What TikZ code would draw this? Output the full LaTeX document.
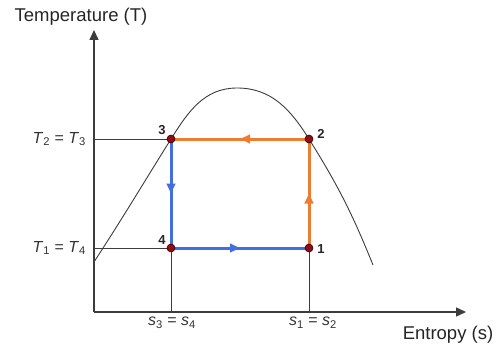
\documentclass[tikz,border=0pt]{standalone}
\usepackage{fontspec}
\setmainfont{Liberation Sans}
\usetikzlibrary{arrows.meta,decorations.markings}
\definecolor{cyorange}{RGB}{237,125,49}
\definecolor{cyblue}{RGB}{66,110,225}
\definecolor{dotred}{RGB}{150,10,20}
\definecolor{axisgray}{RGB}{60,60,60}
\tikzset{
  axisline/.style={draw=axisgray,line width=1.4pt,-{Triangle[length=10pt,width=9pt]}},
  guide/.style={draw=axisgray,line width=0.9pt},
  satcurve/.style={draw=axisgray,line width=0.9pt},
  midarrow/.style={postaction={decorate},decoration={markings,
     mark=at position 0.5 with {\arrow{Triangle[length=10pt,width=8.5pt]}}}},
  orangeseg/.style={draw=cyorange,line width=3pt,midarrow,color=cyorange},
  blueseg/.style={draw=cyblue,line width=3pt,midarrow,color=cyblue},
  statept/.style={circle,fill=dotred,draw=black!70!dotred,line width=0.6pt,inner sep=0pt,minimum size=8pt},
  ptlabel/.style={font=\fontsize{13}{15}\selectfont\bfseries,inner sep=0pt,text=black!85},
  axislabel/.style={font=\fontsize{18.5}{21}\selectfont,inner sep=0pt,text=black!85},
  tlabel/.style={font=\fontsize{16}{19}\selectfont,inner sep=0pt,text=black!80}
}
\begin{document}
\begin{tikzpicture}[x=1pt,y=1pt]
\useasboundingbox (0,0) rectangle (503,346);
% coordinates
\coordinate (O) at (94,34);
\coordinate (ytop) at (94,316);
\coordinate (xend) at (466,34);
\coordinate (p1) at (309,98);
\coordinate (p2) at (309,207);
\coordinate (p3) at (171,207);
\coordinate (p4) at (171,98);
\coordinate (yT23) at (94,207);
\coordinate (yT14) at (94,98);
\coordinate (xs34) at (171,34);
\coordinate (xs12) at (309,34);
\coordinate (cstart) at (94,84);
\coordinate (cpeak) at (237,258);
\coordinate (cend) at (373,81);
% guide lines
\draw[guide] (yT23) -- (p3);
\draw[guide] (yT14) -- (p4);
\draw[guide] (p4) -- (xs34);
\draw[guide] (p1) -- (xs12);
% saturation curve
\draw[satcurve] (cstart) to[out=57,in=238] (p3) to[out=58,in=180] (cpeak)
   to[out=0,in=122] (p2) to[out=-58,in=112] (cend);
% axes
\draw[axisline] (O) -- (ytop);
\draw[axisline] (O) -- (xend);
% cycle
\draw[blueseg] (p4) -- (p1);
\draw[orangeseg] (p1) -- (p2);
\draw[orangeseg] (p2) -- (p3);
\draw[blueseg] (p3) -- (p4);
% state points
\node[statept] (n1) at (p1) {};
\node[statept] (n2) at (p2) {};
\node[statept] (n3) at (p3) {};
\node[statept] (n4) at (p4) {};
\node[ptlabel] (l1) at (321,97) {1};
\node[ptlabel] (l2) at (321,212) {2};
\node[ptlabel] (l3) at (162,216) {3};
\node[ptlabel] (l4) at (162,106) {4};
% labels
\node[axislabel] (tt) at (81,329) {Temperature (T)};
\node[axislabel] (st) at (448,11) {Entropy (s)};
\node[tlabel,anchor=east] (t23) at (86,207) {\textit{T}\textsubscript{2} = \textit{T}\textsubscript{3}};
\node[tlabel,anchor=east] (t14) at (86,98) {\textit{T}\textsubscript{1} = \textit{T}\textsubscript{4}};
\node[tlabel] (s34) at (172,23) {\textit{s}\textsubscript{3} = \textit{s}\textsubscript{4}};
\node[tlabel] (s12) at (313,23) {\textit{s}\textsubscript{1} = \textit{s}\textsubscript{2}};
\end{tikzpicture}
\end{document}
